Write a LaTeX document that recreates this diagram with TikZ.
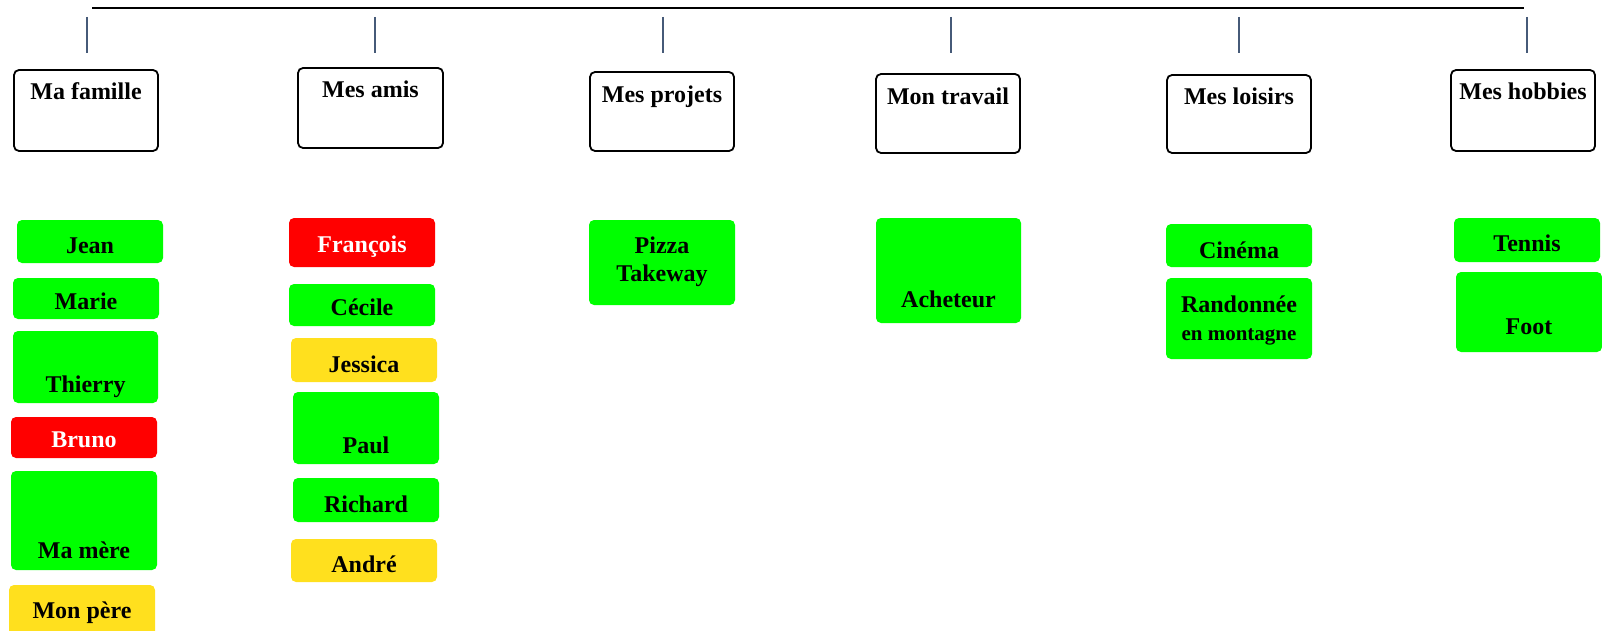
\documentclass[tikz,border=0pt]{standalone}
\usepackage{fontspec}
\setmainfont{Liberation Serif}
\definecolor{vertvif}{RGB}{0,255,0}
\definecolor{rougevif}{RGB}{255,0,0}
\definecolor{jaunevif}{RGB}{255,224,30}
\definecolor{traitbleu}{RGB}{70,90,120}

\begin{document}
\begin{tikzpicture}[x=1pt,y=-1pt,
  box/.style={rounded corners=5pt,inner xsep=0pt,inner ysep=0pt,anchor=base,
    font=\bfseries\fontsize{24}{28}\selectfont,align=center},
  head/.style={box,draw,line width=1.8pt,fill=white,minimum width=144pt},
  vert/.style={box,fill=vertvif,minimum width=146pt},
  rouge/.style={box,fill=rougevif,text=white,minimum width=146pt},
  jaune/.style={box,fill=jaunevif,minimum width=146pt},
  trait/.style={traitbleu,line width=1.6pt}]

  \useasboundingbox (0,0) rectangle (1602,631);
  \clip (0,0) rectangle (1602,631);

  % barre du haut
  \coordinate (gauche) at (92,8);
  \coordinate (droite) at (1524,8);
  \draw[line width=1.6pt] (gauche) -- (droite);
  \foreach \x [count=\i] in {87,375,663,951,1239,1527}
  {
    \coordinate (haut\i) at (\x,17);
    \coordinate (bas\i) at (\x,53);
    \draw[trait] (haut\i) -- (bas\i);
  }

  % titres
  \node[head,text height=30pt,text depth=51pt] (famille) at (86,100) {Ma famille};
  \node[head,minimum width=145pt,text height=30pt,text depth=50pt] (amis) at (370.5,98) {Mes amis};
  \node[head,text height=31pt,text depth=48pt] (projets) at (662,103) {Mes projets};
  \node[head,text height=31pt,text depth=48pt] (travail) at (948,105) {Mon travail};
  \node[head,text height=30pt,text depth=48pt] (loisirs) at (1239,105) {Mes loisirs};
  \node[head,text height=30pt,text depth=51pt] (hobbies) at (1523,100) {Mes hobbies};

  % famille
  \node[vert,text height=33pt,text depth=10pt] (jean) at (90,253) {Jean};
  \node[vert,text height=31pt,text depth=10pt] (marie) at (86,309) {Marie};
  \node[vert,minimum width=145pt,text height=61pt,text depth=11pt] (thierry) at (85.5,392) {Thierry};
  \node[rouge,text height=30pt,text depth=11pt] (bruno) at (84,447) {Bruno};
  \node[vert,text height=87pt,text depth=12pt] (mere) at (84,558) {Ma mère};
  \node[jaune,text height=33pt,text depth=27pt] (pere) at (82,618) {Mon père};

  % amis
  \node[rouge,text height=34pt,text depth=15pt] (francois) at (362,252) {François};
  \node[vert,text height=31pt,text depth=11pt] (cecile) at (362,315) {Cécile};
  \node[jaune,text height=34pt,text depth=10pt] (jessica) at (364,372) {Jessica};
  \node[vert,text height=61pt,text depth=11pt] (paul) at (366,453) {Paul};
  \node[vert,text height=34pt,text depth=10pt] (richard) at (366,512) {Richard};
  \node[jaune,text height=33pt,text depth=10pt] (andre) at (364,572) {André};

  % projets, travail
  \node[vert,text height=61pt,text depth=24pt] (pizza) at (662,281) {Pizza\\Takeway};
  \node[vert,minimum width=145pt,text height=89pt,text depth=16pt] (acheteur) at (948.5,307) {Acheteur};

  % loisirs, hobbies
  \node[vert,text height=34pt,text depth=9pt] (cinema) at (1239,258) {Cinéma};
  \node[vert,text height=62pt,text depth=19pt] (rando) at (1239,340)
    {Randonnée\\{\fontsize{21}{28}\selectfont en montagne}};
  \node[vert,text height=33pt,text depth=11pt] (tennis) at (1527,251) {Tennis};
  \node[vert,text height=62pt,text depth=18pt] (foot) at (1529,334) {Foot};

\end{tikzpicture}
\end{document}
